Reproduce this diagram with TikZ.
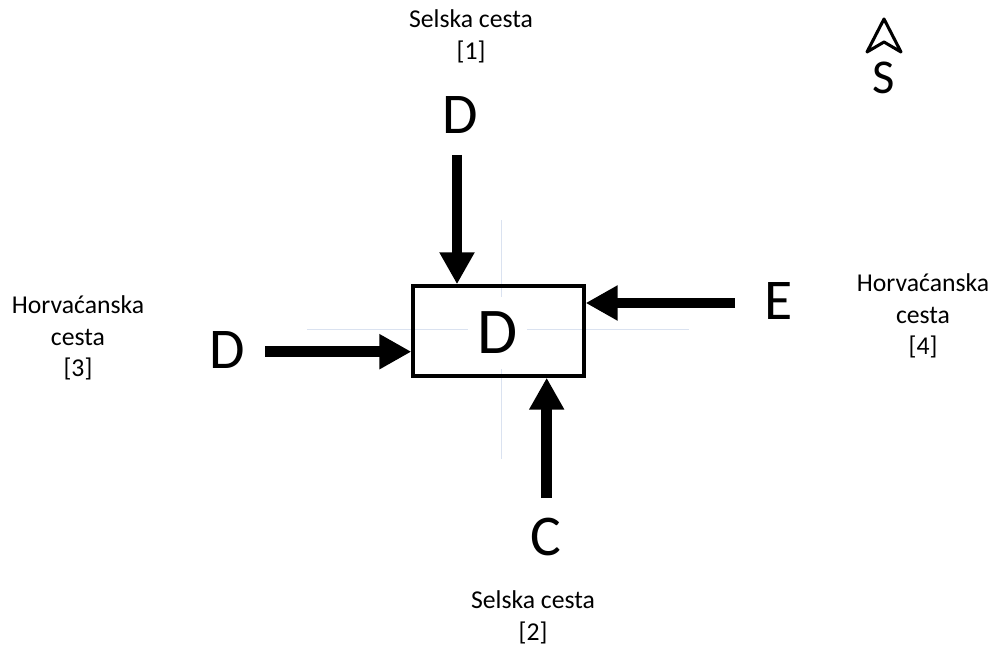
\documentclass[tikz,border=0pt]{standalone}
\usepackage{fontspec}
\setmainfont{Carlito}
\usetikzlibrary{arrows.meta}
\definecolor{guide}{RGB}{218,226,240}
\tikzset{
  lbl/.style={font=\fontsize{18.5}{22.8}\selectfont, align=center, anchor=base, inner sep=0pt},
  big/.style={font=\fontsize{41.5}{48}\selectfont, inner sep=0pt},
  flow/.style={line width=7.6pt, -{Triangle[length=23pt,width=23.8pt]}},
  junction/.style={draw, line width=2.5pt, minimum width=123pt, minimum height=64.8pt, inner sep=0pt},
  guideline/.style={draw=guide, line width=0.8pt}
}
\begin{document}
\begin{tikzpicture}[x=0.72pt,y=-0.72pt]
\useasboundingbox (0,0) rectangle (1000,653);
% faint guides
\draw[guideline] (307,329.5) -- (689,329.5);
\draw[guideline] (501.7,220) -- (501.7,459);
% junction
\node[junction] (box) at (498.5,331) {};
\node[font=\fontsize{47}{52}\selectfont, fill=white, minimum width=43pt, minimum height=52pt, inner sep=0pt] (cd) at (497.5,333) {D};
% approach letters
\node[big] (ld1) at (460,115) {D};
\node[big] (ld3) at (227,350) {D};
\node[big] (le4) at (779,301) {E};
\node[big] (lc2) at (546,537) {C};
% arrows
\coordinate (s1) at (457,155);
\coordinate (s3) at (265,351.7);
\coordinate (s4) at (735,303);
\coordinate (s2) at (546.7,498);
\draw[flow] (s1) -- (s1 |- box.north);
\draw[flow] (s3) -- (s3 -| box.west);
\draw[flow] (s4) -- (s4 -| box.east);
\draw[flow] (s2) -- (s2 |- box.south);
% road labels
\node[lbl] (r1) at (471,59.3) {Selska cesta\\{[1]}};
\node[lbl] (r2) at (533,640) {Selska cesta\\{[2]}};
\node[lbl] (r3) at (78,376.7) {Horvaćanska\\cesta\\{[3]}};
\node[lbl] (r4) at (923,355) {Horvaćanska\\cesta\\{[4]}};
% north arrow
\draw[line width=2.2pt, line join=round] (884,19) -- (901,52) -- (884,42) -- (867,52) -- cycle;
\node[font=\fontsize{35}{40}\selectfont, inner sep=0pt] (ns) at (884,77.5) {S};
\end{tikzpicture}
\end{document}
